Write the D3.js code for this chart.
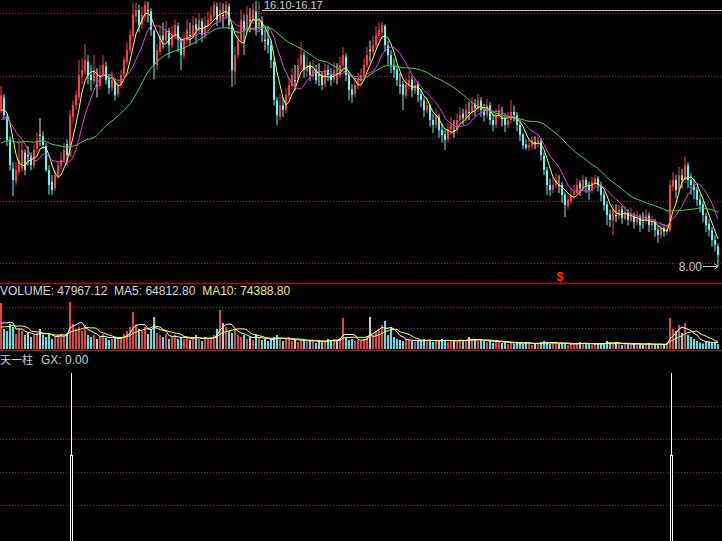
<!DOCTYPE html>
<html><head><meta charset="utf-8">
<script src="https://cdn.jsdelivr.net/npm/d3@7"></script>
<style>html,body{margin:0;padding:0;background:#000;overflow:hidden}svg{display:block}</style>
</head><body>
<svg id="c" width="722" height="541"></svg>
<script>
// ---------- DATA ----------
const openP = [
12.80,13.20,12.60,11.90,11.00,10.60,10.90,11.00,11.50,11.42,
11.40,11.10,11.60,12.04,12.00,11.70,10.95,10.60,10.40,10.80,
11.10,11.25,11.75,11.40,12.60,12.95,13.20,13.85,14.00,14.30,
13.90,13.70,13.58,13.55,13.90,14.15,13.75,13.50,13.70,13.30,
13.60,13.90,14.30,14.65,15.10,15.70,15.89,15.45,15.70,15.89,
15.85,15.25,14.20,14.60,15.10,14.95,15.25,14.80,15.10,15.40,
14.95,14.50,14.95,15.12,15.10,15.45,15.25,15.55,15.10,15.40,
15.55,15.70,16.00,15.60,15.74,15.70,16.00,15.40,14.00,14.50,
14.95,15.55,15.30,15.58,15.55,15.85,15.30,15.55,14.97,15.00,
14.80,14.30,13.10,12.60,12.95,12.80,13.25,13.55,13.73,13.75,
14.20,14.50,14.00,14.20,13.85,14.05,13.89,13.90,13.60,14.05,
13.90,13.75,13.89,13.90,14.20,14.45,13.90,13.45,13.30,13.60,
13.70,13.90,14.20,14.66,14.60,14.80,15.10,15.20,15.40,14.80,
14.50,14.20,14.05,13.58,13.60,13.25,13.55,13.75,13.40,13.60,
13.30,13.10,12.80,12.95,12.50,12.35,12.60,12.20,12.05,11.90,
12.20,12.19,12.20,12.50,12.70,12.55,12.75,12.75,13.00,12.85,
13.10,12.80,12.65,12.95,12.50,12.35,12.65,12.56,12.55,12.35,
12.50,12.75,12.65,12.35,12.05,11.75,11.65,11.70,11.82,11.80,
11.85,11.40,10.95,10.50,10.35,10.50,10.50,10.50,10.20,9.85,
10.00,10.20,10.25,10.55,10.40,10.65,10.50,10.35,10.55,10.70,
10.50,10.20,9.90,9.60,9.40,9.57,9.55,9.75,9.45,9.65,
9.40,9.55,9.35,9.50,9.42,9.40,9.55,9.25,9.35,9.10,
8.95,9.17,9.05,9.10,10.45,10.65,10.35,10.80,10.65,11.10,
10.65,10.50,10.35,10.05,9.90,9.55,9.30,9.10,8.80,8.60];
const highP = [
13.55,13.30,12.70,12.00,11.20,11.20,11.90,11.85,11.60,11.70,
11.50,11.75,12.10,12.56,12.15,11.80,11.10,10.80,10.95,11.25,
11.50,11.80,11.90,12.80,13.10,13.40,14.35,14.40,14.85,14.50,
14.20,14.50,14.10,14.20,14.50,14.30,13.90,14.00,13.80,13.75,
14.05,14.45,14.90,15.30,16.10,16.12,16.05,16.00,16.17,16.15,
15.95,15.30,14.85,15.40,15.50,15.55,15.35,15.40,15.60,15.50,
15.05,15.20,15.60,15.50,15.70,15.65,15.80,15.65,15.70,15.85,
16.00,16.17,16.12,16.15,16.10,16.17,16.10,15.45,14.75,15.30,
15.90,15.75,16.00,15.95,16.10,16.17,16.15,15.70,15.30,15.40,
14.95,14.40,13.20,13.30,13.20,13.50,13.80,14.10,14.20,14.40,
14.92,14.60,14.45,14.30,14.35,14.20,14.25,14.00,14.25,14.20,
14.10,14.30,14.25,14.45,14.75,14.55,14.00,13.60,13.80,13.95,
14.10,14.40,14.75,14.95,15.10,15.40,15.50,15.52,15.45,14.95,
14.65,14.40,14.15,13.95,13.70,13.80,14.00,13.85,13.80,13.70,
13.45,13.20,13.20,13.00,12.70,12.85,12.70,12.40,12.20,12.40,
12.60,12.50,12.70,12.90,12.85,13.00,13.05,13.20,13.15,13.30,
13.20,13.00,13.15,13.05,12.70,12.85,13.00,12.90,12.70,12.75,
13.12,12.95,12.75,12.45,12.10,11.90,11.95,12.00,12.00,11.98,
11.95,11.50,11.05,10.70,10.75,10.85,10.80,10.60,10.30,10.25,
10.40,10.50,10.71,10.65,10.80,10.75,10.60,10.75,10.81,10.78,
10.60,10.30,10.00,9.75,9.90,9.90,9.88,9.85,9.85,9.75,
9.80,9.65,9.70,9.60,9.65,9.75,9.65,9.55,9.45,9.25,
9.35,9.30,9.30,10.65,10.90,10.80,11.05,11.00,11.37,11.20,
10.85,10.70,10.45,10.20,10.00,9.65,9.45,9.20,8.95,8.70];
const lowP = [
12.70,12.50,11.70,10.95,10.15,10.50,10.80,10.90,10.80,11.10,
10.95,11.00,11.50,11.70,11.60,10.90,10.20,10.19,10.30,10.70,
11.00,11.20,11.10,11.35,12.40,12.80,13.10,13.60,13.90,13.60,
13.40,13.60,13.20,13.45,13.80,13.60,13.30,13.40,13.10,13.20,
13.50,13.80,14.20,14.55,15.00,15.50,15.20,15.30,15.55,15.50,
15.10,13.75,14.05,14.50,14.70,14.85,14.40,14.70,15.00,14.60,
14.04,14.40,14.85,14.80,15.00,14.85,15.15,14.90,15.00,15.20,
15.40,15.60,15.40,15.50,15.35,15.60,15.30,13.52,13.58,14.40,
14.85,14.50,15.20,15.20,15.45,15.10,15.20,14.90,14.65,14.55,
14.10,12.95,12.35,12.50,12.60,12.70,13.15,13.45,13.40,13.65,
14.05,13.80,13.85,13.70,13.75,13.60,13.55,13.43,13.50,13.70,
13.55,13.65,13.60,13.80,14.10,13.70,13.10,13.03,13.20,13.45,
13.60,13.80,14.10,14.30,14.50,14.70,14.95,15.00,14.60,14.20,
13.95,13.80,13.55,13.30,12.81,13.15,13.45,13.20,13.30,13.05,
12.90,12.60,12.70,12.30,12.10,12.25,11.95,11.80,11.58,11.80,
12.05,11.95,12.10,12.40,12.35,12.45,12.50,12.65,12.60,12.75,
12.60,12.45,12.55,12.35,12.15,12.25,12.55,12.30,12.13,12.25,
12.40,12.45,12.15,11.85,11.60,11.58,11.55,11.60,11.60,11.65,
11.25,10.80,10.19,10.15,10.25,10.40,10.25,9.95,9.51,9.75,
9.90,10.05,10.20,10.15,10.30,10.25,10.04,10.25,10.45,10.30,
10.00,9.70,9.26,9.20,8.95,9.35,9.45,9.30,9.40,9.25,
9.35,9.15,9.25,9.05,9.15,9.30,9.05,9.10,8.90,8.71,
8.85,8.90,8.95,9.05,10.30,10.10,10.25,10.40,10.55,10.40,
10.20,10.05,9.85,9.65,9.35,9.05,8.90,8.60,8.45,8.00];
const closeP = [
13.27,12.65,11.88,11.11,10.65,10.96,11.27,11.58,10.96,11.42,
11.11,11.58,11.88,12.04,11.73,10.96,10.50,10.34,10.80,11.11,
11.27,11.58,11.42,12.65,12.96,13.27,13.89,14.04,14.35,13.89,
13.73,14.04,13.58,13.89,14.20,13.73,13.49,13.73,13.27,13.58,
13.89,14.35,14.66,15.12,15.74,15.89,15.43,15.74,16.05,15.89,
15.28,14.20,14.66,15.12,14.97,15.28,14.81,15.12,15.43,14.97,
14.50,14.97,15.28,15.12,15.43,15.28,15.58,15.12,15.43,15.58,
15.74,16.05,15.58,15.89,15.74,16.05,15.43,14.04,14.50,14.97,
15.58,15.28,15.74,15.58,15.89,15.28,15.58,15.12,14.97,14.81,
14.35,13.12,12.65,12.96,12.81,13.27,13.58,13.89,13.73,14.20,
14.50,14.04,14.20,13.89,14.04,13.73,13.89,13.58,14.04,13.89,
13.73,14.04,13.89,14.20,14.50,13.89,13.43,13.27,13.58,13.73,
13.89,14.20,14.50,14.66,14.81,15.12,15.28,15.43,14.81,14.50,
14.20,14.04,13.73,13.58,13.27,13.58,13.73,13.43,13.58,13.27,
13.12,12.81,12.96,12.50,12.35,12.65,12.19,12.04,11.88,12.19,
12.35,12.19,12.50,12.65,12.56,12.81,12.75,12.96,12.87,13.12,
12.81,12.65,12.96,12.50,12.35,12.65,12.81,12.56,12.35,12.50,
12.75,12.65,12.35,12.04,11.73,11.64,11.73,11.88,11.82,11.88,
11.42,10.96,10.50,10.34,10.50,10.65,10.50,10.19,9.88,10.04,
10.19,10.28,10.50,10.40,10.65,10.50,10.34,10.59,10.71,10.50,
10.19,9.88,9.57,9.42,9.73,9.57,9.73,9.48,9.66,9.42,
9.57,9.36,9.48,9.26,9.42,9.57,9.26,9.36,9.11,8.95,
9.17,9.05,9.11,10.50,10.65,10.34,10.80,10.65,11.11,10.65,
10.50,10.34,10.04,9.88,9.57,9.26,9.11,8.80,8.65,8.34];
const volume = [
460000,200000,180000,250000,220000,150000,200000,180000,140000,160000,
120000,140000,160000,200000,140000,120000,150000,100000,120000,140000,
150000,130000,160000,470000,250000,200000,220000,180000,240000,140000,
120000,140000,100000,120000,150000,110000,90000,100000,120000,100000,
120000,150000,180000,220000,370000,250000,200000,180000,220000,150000,
200000,320000,160000,140000,120000,150000,100000,120000,140000,100000,
120000,100000,120000,90000,110000,140000,100000,80000,120000,100000,
120000,140000,200000,390000,260000,220000,180000,160000,200000,140000,
120000,140000,100000,120000,90000,150000,110000,90000,100000,80000,
100000,120000,140000,100000,80000,100000,120000,80000,90000,70000,
80000,100000,70000,90000,80000,60000,90000,70000,80000,100000,
80000,100000,90000,110000,310000,120000,90000,100000,80000,90000,
80000,100000,130000,320000,140000,180000,200000,240000,280000,140000,
220000,120000,100000,90000,80000,100000,90000,80000,70000,90000,
80000,100000,90000,80000,70000,90000,80000,100000,90000,70000,
80000,90000,70000,100000,90000,80000,120000,90000,100000,80000,
90000,80000,70000,90000,60000,80000,70000,60000,80000,50000,
60000,50000,70000,60000,50000,70000,60000,40000,50000,60000,
70000,80000,60000,50000,60000,70000,50000,60000,50000,40000,
50000,60000,50000,70000,50000,60000,50000,40000,50000,60000,
50000,60000,80000,60000,50000,70000,50000,40000,60000,50000,
40000,50000,60000,50000,40000,50000,60000,40000,50000,40000,
50000,40000,60000,310000,200000,180000,240000,160000,260000,140000,
120000,100000,80000,64824,55000,70000,75000,65000,66096.88,47967.12];
// closes / volumes just before the visible window (implied by the MA lines at the left edge)
const priorClose = [11.27,11.11,10.96,11.27,11.58,11.42,11.11,10.96,11.27,11.58,
11.73,11.58,11.27,11.42,11.73,11.88,11.58,11.27,11.58,12.04,
11.88,12.04,12.35,12.19,12.65,12.35,12.50,12.65,13.12];
const priorVolume = [180000,150000,200000,160000,220000,170000,190000,210000,250000];
const maPeriods = [5, 10, 30];
const volMaPeriods = [5, 10];
const gxSignals = [23, 223];     // 天一柱 signal days
const gxStick = 100, gxBar = 50;
const sellMark = {index: 186, text: "$"};
const rangeLabel = "16.10-16.17";

// ---------- LAYOUT ----------
const W = 722, H = 541;
const n = closeP.length;
const svg = d3.select('#c');
svg.append('rect').attr('width', W).attr('height', H).attr('fill', '#000');
const font = "'Liberation Sans', Arial, 'Noto Sans CJK SC', sans-serif";

const x = d3.scaleBand().domain(d3.range(n)).range([0, 3 * n]);
const cx = i => x(i) + 1;
const y = d3.scaleLinear().domain([8.00, 16.17]).range([266, 1]);
const yv = d3.scaleLinear().domain([0, 660000]).range([349, 283]);
const yg = d3.scaleLinear().domain([0, 100]).range([538, 373]);

const RED = '#ff3c3c', CYAN = '#54fcfc', WHITE = '#e6e6e6';
const col = i => closeP[i] > openP[i] ? RED : (closeP[i] < openP[i] ? CYAN : WHITE);
const vcol = i => closeP[i] > openP[i] ? '#e04444' : (closeP[i] < openP[i] ? '#50e4ee' : '#c8c8c8');

// grid lines (dotted dark red)
const gridYs = [13, 76, 138, 201, 263, 307, 328, 406, 439, 472, 505];
svg.append('g').selectAll('line').data(gridYs).join('line')
  .attr('x1', 0).attr('x2', W).attr('y1', d => d + 0.5).attr('y2', d => d + 0.5)
  .attr('stroke', '#8a2a2a').attr('stroke-dasharray', '1,2').attr('stroke-width', 1);

// panel separators
svg.append('g').selectAll('line').data([283, 350]).join('line')
  .attr('x1', 0).attr('x2', W).attr('y1', d => d + 0.5).attr('y2', d => d + 0.5)
  .attr('stroke', '#a01818').attr('stroke-width', 1.5);

// range label + line
svg.append('line').attr('x1', 262).attr('x2', W).attr('y1', 10.5).attr('y2', 10.5)
  .attr('stroke', '#d2c0b0').attr('stroke-width', 1);
svg.append('text').attr('x', 264).attr('y', 9).attr('fill', '#d8d0c8')
  .attr('font-family', font).attr('font-size', 11).text(rangeLabel);

// ---------- MAIN PANEL ----------
svg.append('clipPath').attr('id', 'mainClip').append('rect').attr('x', 0).attr('y', 0).attr('width', W).attr('height', 282);
const main = svg.append('g').attr('clip-path', 'url(#mainClip)');
const idx = d3.range(n);
main.append('g').selectAll('line').data(idx).join('line')
  .attr('x1', i => cx(i)).attr('x2', i => cx(i))
  .attr('y1', i => y(highP[i])).attr('y2', i => y(lowP[i]))
  .attr('stroke', col).attr('stroke-width', 1);
main.append('g').selectAll('rect').data(idx).join('rect')
  .attr('x', i => x(i)).attr('width', 2)
  .attr('y', i => y(Math.max(openP[i], closeP[i])))
  .attr('height', i => Math.max(1, Math.abs(y(openP[i]) - y(closeP[i]))))
  .attr('fill', col);

const allClose = priorClose.concat(closeP);
const off = priorClose.length;
function ma(arr, offset, p) {
  return d3.range(n).map(i => d3.mean(arr.slice(i + offset - p + 1, i + offset + 1)));
}
const maColors = ['#ffff40', '#e040e0', '#50c850'];
maPeriods.forEach((p, k) => {
  const vals = ma(allClose, off, p);
  main.append('path').datum(vals)
    .attr('d', d3.line().x((d, i) => cx(i)).y(d => y(d)))
    .attr('fill', 'none').attr('stroke', maColors[k]).attr('stroke-width', 1);
});

// lowest price marker
const minIdx = d3.minIndex(lowP);
const minY = y(lowP[minIdx]);
svg.append('text').attr('x', cx(minIdx) - 16).attr('y', minY + 5).attr('text-anchor', 'end')
  .attr('fill', '#c8c8c8').attr('font-family', font).attr('font-size', 12).text(d3.format('.2f')(lowP[minIdx]));
svg.append('line').attr('x1', cx(minIdx) - 15).attr('x2', cx(minIdx)).attr('y1', minY + 0.5).attr('y2', minY + 0.5)
  .attr('stroke', '#c8c8c8').attr('stroke-width', 1);
svg.append('path').attr('d', `M${cx(minIdx) - 4},${minY - 2.5}L${cx(minIdx)},${minY + 0.5}L${cx(minIdx) - 4},${minY + 3.5}`)
  .attr('fill', 'none').attr('stroke', '#c8c8c8').attr('stroke-width', 1);

// sell mark
svg.append('text').attr('x', cx(sellMark.index) + 1).attr('y', 281).attr('text-anchor', 'middle')
  .attr('fill', '#ff3030').attr('font-family', font).attr('font-size', 12).attr('font-weight', 'bold').text(sellMark.text);

// ---------- VOLUME PANEL ----------
const vol = svg.append('g');
vol.append('g').selectAll('rect').data(idx).join('rect')
  .attr('x', i => x(i)).attr('width', 2)
  .attr('y', i => yv(volume[i])).attr('height', i => yv(0) - yv(volume[i]))
  .attr('fill', vcol);
const allVol = priorVolume.concat(volume);
const voff = priorVolume.length;
const volMa = volMaPeriods.map(p => ma(allVol, voff, p));
const vmaColors = ['#ffffff', '#ffff40'];
volMa.forEach((vals, k) => {
  vol.append('path').datum(vals)
    .attr('d', d3.line().x((d, i) => cx(i)).y(d => yv(d)))
    .attr('fill', 'none').attr('stroke', vmaColors[k]).attr('stroke-width', 1);
});
const f2 = d3.format('.2f');
const vt = svg.append('text').attr('x', 0).attr('y', 295).attr('font-family', font).attr('font-size', 12)
  .attr('xml:space', 'preserve');
vt.append('tspan').attr('fill', '#d8d8d8').text(`VOLUME: ${f2(volume[n - 1])}  `);
vt.append('tspan').attr('fill', '#d8d8d8').text(`MA${volMaPeriods[0]}: ${f2(volMa[0][n - 1])}  `);
vt.append('tspan').attr('fill', '#f0f050').text(`MA${volMaPeriods[1]}: ${f2(volMa[1][n - 1])}`);

// ---------- GX PANEL ----------
const gx = d3.range(n).map(i => gxSignals.includes(i) ? gxStick : 0);
const gt = svg.append('text').attr('y', 364).attr('font-family', font).attr('fill', '#d0d0d0');
gt.append('tspan').attr('x', 0).attr('font-size', 11).text('天一柱');
gt.append('tspan').attr('x', 41).attr('font-size', 12).text(`GX: ${f2(gx[n - 1])}`);
const gp = svg.append('g');
gxSignals.forEach(i => {
  gp.append('line').attr('x1', x(i) + 2.5).attr('x2', x(i) + 2.5)
    .attr('y1', yg(gxStick)).attr('y2', yg(gxBar)).attr('stroke', '#ffffff').attr('stroke-width', 1);
  gp.append('rect').attr('x', x(i) + 1.5).attr('width', 2)
    .attr('y', yg(gxBar)).attr('height', H + 5 - yg(gxBar))
    .attr('fill', 'none').attr('stroke', '#ffffff').attr('stroke-width', 1);
});
</script>
</body></html>
